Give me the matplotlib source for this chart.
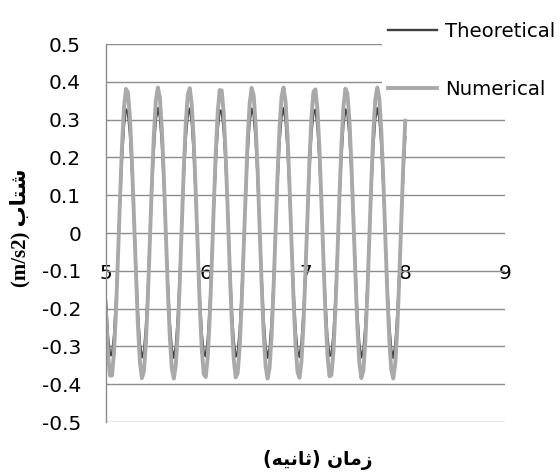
"""
Acceleration vs time: theoretical and numerical response.
"""
import matplotlib
matplotlib.use("Agg")
import matplotlib.pyplot as plt

# time samples (s), every 0.02 s from 5 to 8
time_s = [round(5.00 + 0.02 * k, 2) for k in range(151)]

theoretical = [
    -0.178, -0.272, -0.323, -0.323, -0.272, -0.178, -0.056, 0.075, 0.194, 0.283,
    0.327, 0.319, 0.261, 0.162, 0.037, -0.094, -0.209, -0.292, -0.329, -0.314,
    -0.249, -0.145, -0.018, 0.112, 0.224, 0.301, 0.330, 0.307, 0.236, 0.127,
    -0.001, -0.130, -0.238, -0.308, -0.330, -0.299, -0.222, -0.109, 0.021, 0.147,
    0.251, 0.314, 0.329, 0.291, 0.207, 0.091, -0.040, -0.164, -0.263, -0.320,
    -0.326, -0.281, -0.192, -0.072, 0.059, 0.181, 0.274, 0.324, 0.323, 0.271,
    0.176, 0.053, -0.078, -0.197, -0.284, -0.327, -0.318, -0.259, -0.160, -0.034,
    0.096, 0.212, 0.294, 0.329, 0.313, 0.247, 0.142, 0.015, -0.115, -0.226,
    -0.302, -0.330, -0.306, -0.234, -0.124, 0.004, 0.133, 0.240, 0.309, 0.330,
    0.298, 0.220, 0.106, -0.024, -0.150, -0.253, -0.315, -0.328, -0.289, -0.205,
    -0.088, 0.043, 0.167, 0.265, 0.320, 0.326, 0.280, 0.189, 0.069, -0.062,
    -0.183, -0.276, -0.325, -0.322, -0.269, -0.173, -0.050, 0.081, 0.199, 0.286,
    0.327, 0.317, 0.257, 0.157, 0.031, -0.099, -0.214, -0.295, -0.329, -0.312,
    -0.245, -0.140, -0.012, 0.117, 0.228, 0.303, 0.330, 0.305, 0.232, 0.122,
    -0.007, -0.135, -0.242, -0.310, -0.330, -0.297, -0.217, -0.104, 0.027, 0.153,
    0.254,
]

numerical = [
    -0.208, -0.318, -0.377, -0.377, -0.318, -0.208, -0.065, 0.087, 0.227, 0.330,
    0.381, 0.372, 0.305, 0.189, 0.043, -0.109, -0.244, -0.341, -0.384, -0.366,
    -0.290, -0.169, -0.021, 0.131, 0.261, 0.351, 0.385, 0.358, 0.275, 0.148,
    -0.002, -0.151, -0.277, -0.359, -0.385, -0.349, -0.259, -0.128, 0.024, 0.172,
    0.292, 0.367, 0.383, 0.339, 0.242, 0.106, -0.047, -0.192, -0.307, -0.373,
    -0.381, -0.328, -0.224, -0.084, 0.069, 0.211, 0.320, 0.378, 0.377, 0.316,
    0.205, 0.062, -0.091, -0.229, -0.332, -0.382, -0.371, -0.302, -0.186, -0.040,
    0.112, 0.247, 0.342, 0.384, 0.365, 0.288, 0.166, 0.017, -0.134, -0.264,
    -0.352, -0.385, -0.357, -0.273, -0.145, 0.005, 0.155, 0.280, 0.361, 0.385,
    0.348, 0.256, 0.124, -0.028, -0.175, -0.295, -0.368, -0.383, -0.338, -0.239,
    -0.103, 0.050, 0.195, 0.309, 0.374, 0.380, 0.326, 0.221, 0.081, -0.072,
    -0.214, -0.322, -0.379, -0.376, -0.314, -0.202, -0.059, 0.094, 0.232, 0.333,
    0.382, 0.370, 0.300, 0.183, 0.036, -0.116, -0.250, -0.344, -0.384, -0.364,
    -0.286, -0.163, -0.014, 0.137, 0.266, 0.354, 0.385, 0.356, 0.270, 0.142,
    -0.009, -0.158, -0.282, -0.362, -0.385, -0.346, -0.254, -0.121, 0.031, 0.178,
    0.297,
]

x_ticks = [5, 6, 7, 8, 9]
y_ticks = [0.5, 0.4, 0.3, 0.2, 0.1, 0, -0.1, -0.2, -0.3, -0.4, -0.5]
y_tick_labels = ["0.5", "0.4", "0.3", "0.2", "0.1", "0",
                 "-0.1", "-0.2", "-0.3", "-0.4", "-0.5"]

# Persian labels in visual (left-to-right, shaped) order
x_label = "(\ufeea\ufef4\ufee7\ufe8e\ufe9b) \ufee5\ufe8e\ufee3\ufeaf"
y_label = "(m/s2) \ufe8f\ufe8e\ufe98\ufeb7"

grid_col = "#8c8c8c"

fig = plt.figure(figsize=(5.6, 4.75), dpi=100)
ax = fig.add_axes([106 / 560, 1 - 422 / 475, 399 / 560, 378 / 475])

ax.set_xlim(5, 9)
ax.set_ylim(-0.5, 0.5)

ax.plot(time_s, theoretical, color="#3f3f3f", lw=1.7, label="Theoretical")
ax.plot(time_s, numerical, color="#a9a9a9", lw=2.8, label="Numerical")

ax.set_yticks(y_ticks)
ax.set_yticklabels(y_tick_labels)
ax.yaxis.grid(True, color=grid_col, lw=1.0)
ax.set_axisbelow(True)

# x axis crosses at y = 0, labels sit just under it
ax.spines["bottom"].set_position(("data", 0))
ax.spines["bottom"].set_visible(False)
ax.set_xticks(x_ticks)
ax.set_xticklabels([str(v) for v in x_ticks])
ax.tick_params(axis="x", length=0, pad=22, labelsize=14.5)
ax.tick_params(axis="y", length=0, pad=18, labelsize=14.5)

for side in ["top", "right"]:
    ax.spines[side].set_visible(False)
ax.spines["left"].set_color(grid_col)
ax.spines["left"].set_linewidth(1.0)

fig.text(318 / 560, 1 - 460 / 475, x_label, ha="center", va="center",
         fontsize=13.5, fontweight="bold", family=["DejaVu Sans"])
fig.text(20 / 560, 1 - 228 / 475, y_label, ha="center", va="center",
         rotation=90, fontsize=15, fontweight="bold",
         family=["Liberation Serif", "DejaVu Sans"])

leg = ax.legend(loc="upper left", bbox_to_anchor=(382 / 560, 1 - 16 / 475),
                bbox_transform=fig.transFigure, frameon=True,
                fontsize=14.2, handlelength=2.5, handletextpad=0.4,
                labelspacing=2.0, borderpad=0.3, borderaxespad=0.0)
leg.get_frame().set_facecolor("white")
leg.get_frame().set_edgecolor("none")
leg.get_frame().set_alpha(1.0)
leg.get_frame().set_boxstyle("square", pad=0.0)

fig.savefig("out.png", dpi=100)
